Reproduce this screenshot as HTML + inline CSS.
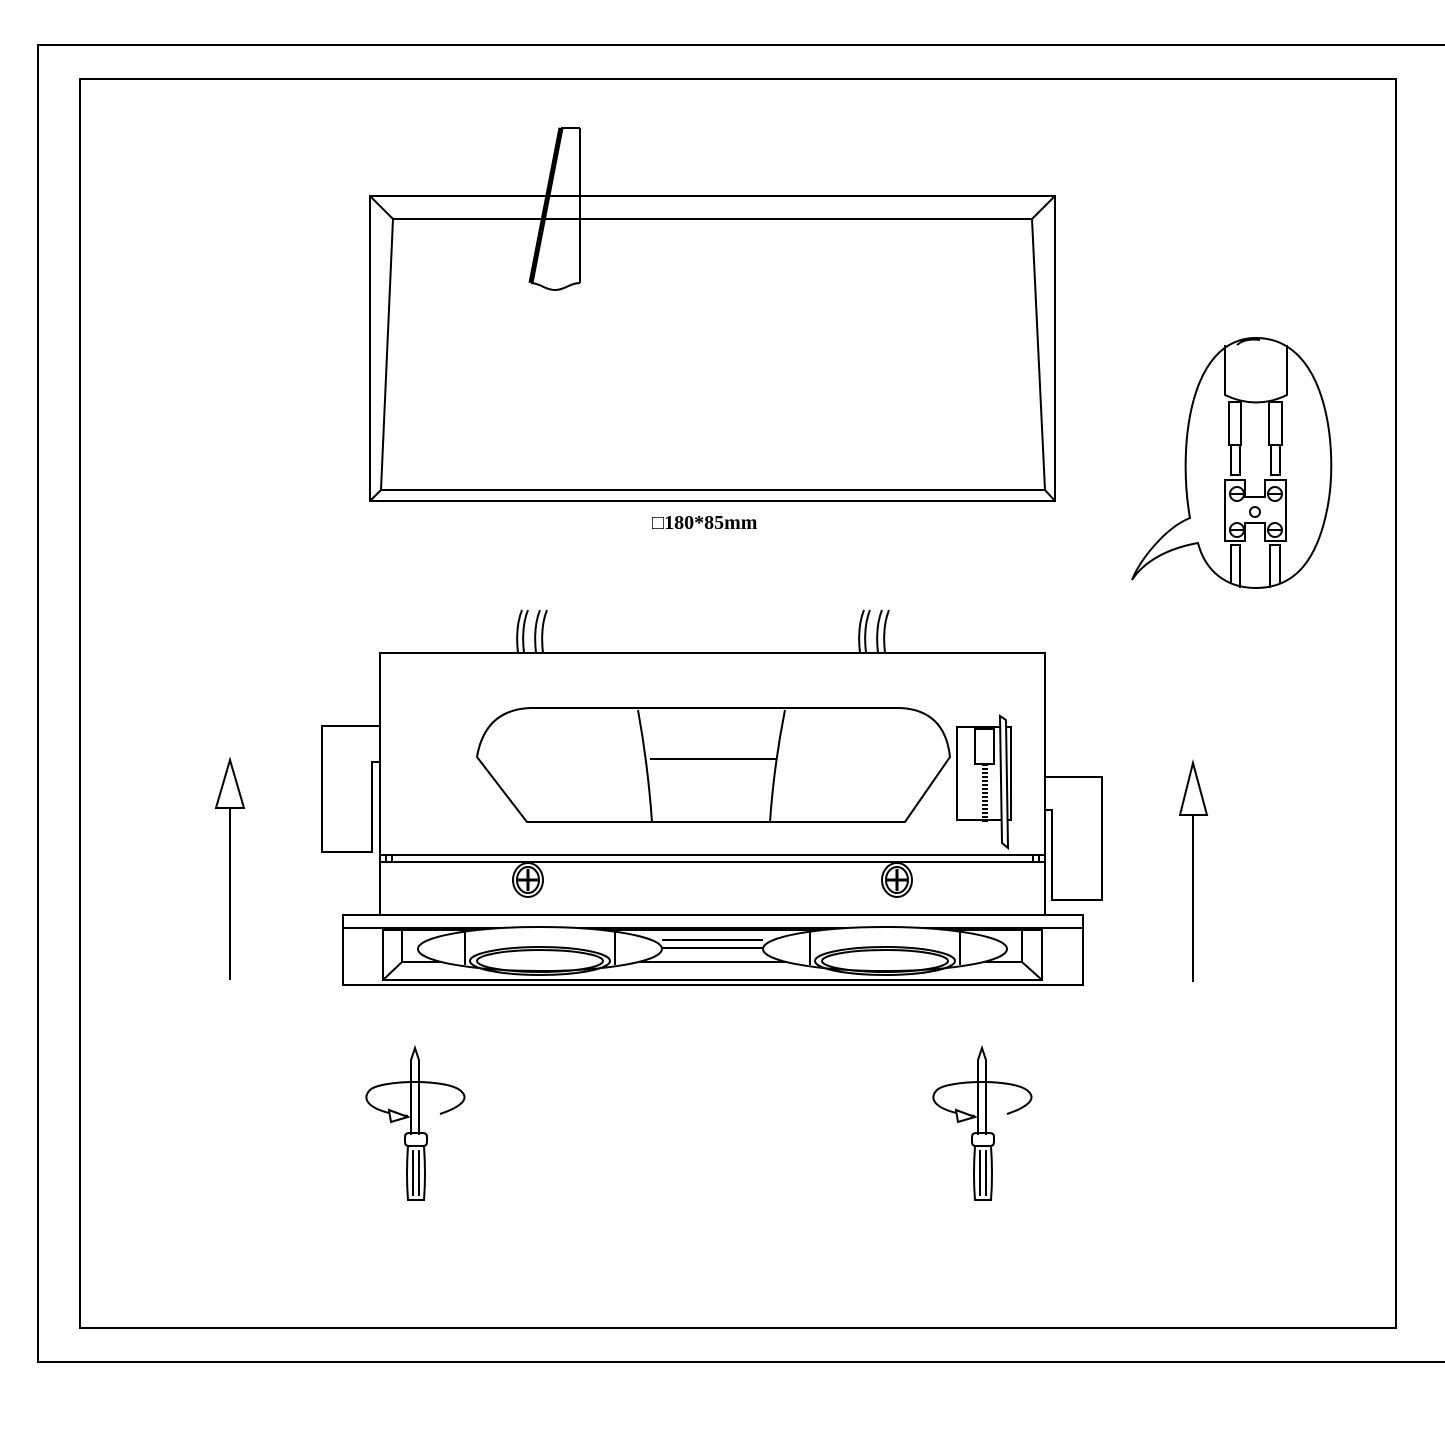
<!DOCTYPE html>
<html><head><meta charset="utf-8"><style>html,body{margin:0;padding:0;background:#fff}svg{display:block}</style></head>
<body>
<svg width="1445" height="1445" viewBox="0 0 1445 1445" xmlns="http://www.w3.org/2000/svg" fill="none" stroke="#000" stroke-width="2">
<!-- frames -->
<path d="M1445 45 H38 V1362 H1445"/>
<rect x="80" y="79" width="1316" height="1249"/>

<!-- top panel -->
<rect x="370" y="196" width="685" height="305"/>
<path d="M393 219 H1032 L1045 490 H381 Z"/>
<path d="M370 196 L393 219 M1055 196 L1032 219 M370 501 L381 490 M1055 501 L1045 490"/>
<!-- knife -->
<path d="M580 128 V283" />
<path d="M561 128 H580"/>
<path d="M561 128 L531 283" stroke-width="5"/>
<path d="M531 283 C540 283 545 290 555 290 C565 290 570 283 580 283" fill="#fff"/>
<text x="652" y="529" font-family="Liberation Serif, serif" font-size="20" font-weight="bold" fill="#000" stroke="none">□180*85mm</text>

<!-- bubble -->
<path d="M1190 518 C1178 450 1188 338 1256 338 C1328 338 1338 450 1328 505 C1318 560 1295 588 1256 588 C1225 588 1205 570 1198 543 C1170 548 1145 560 1132 580 C1140 560 1165 528 1190 518 Z" fill="#fff"/>
<path d="M1225 345 V395 Q1256 410 1287 395 V345"/>
<path d="M1237 345 Q1245 338 1260 340"/>
<rect x="1229" y="402" width="12" height="43"/><rect x="1231" y="445" width="9" height="30"/>
<rect x="1269" y="402" width="13" height="43"/><rect x="1271" y="445" width="9" height="30"/>
<path d="M1225 480 H1245 V497 H1265 V480 H1286 V541 H1265 V523 H1245 V541 H1225 Z"/>
<circle cx="1237" cy="494" r="7"/><circle cx="1275" cy="494" r="7"/>
<circle cx="1237" cy="530" r="7"/><circle cx="1275" cy="530" r="7"/>
<path d="M1231 494 H1243 M1269 494 H1281 M1231 530 H1243 M1269 530 H1281"/>
<circle cx="1255" cy="512" r="5"/>
<path d="M1231 584 V545 H1240 V588 M1270 588 V545 H1280 V584"/>

<!-- wires -->
<path d="M518 653 C516 635 518 620 522 610 M524 653 C522 635 524 620 528 610"/>
<path d="M536 653 C534 635 536 620 540 610 M543 653 C541 635 543 620 547 610"/>
<path d="M860 653 C858 635 860 620 864 610 M866 653 C864 635 866 620 870 610"/>
<path d="M878 653 C876 635 878 620 882 610 M885 653 C883 635 885 620 889 610"/>

<!-- fixture body -->
<rect x="380" y="653" width="665" height="262"/>
<path d="M380 726 H322 V852 H372 V762 H380"/>
<path d="M1045 777 H1102 V900 H1052 V810 H1045"/>
<path d="M380 855 H1045 M380 862 H1045 M386 855 V862 M392 855 V862 M1033 855 V862 M1039 855 V862"/>
<!-- window -->
<path d="M530 708 H900 Q945 710 950 757 L905 822 H527 L477 757 Q485 710 530 708 Z"/>
<path d="M638 710 Q648 765 652 822 M785 710 Q774 765 770 822 M650 759 H776"/>
<!-- mechanism -->
<rect x="957" y="727" width="54" height="93"/>
<rect x="975" y="729" width="19" height="35"/>
<path d="M985 764 V822" stroke-width="6" stroke-dasharray="2 2"/>
<path d="M1000 716 L1006 720 L1008 848 L1002 843 Z" fill="#fff"/>
<!-- screws -->
<ellipse cx="528" cy="880" rx="15" ry="17"/><ellipse cx="528" cy="880" rx="11" ry="13"/>
<path d="M528 869 V891 M517 880 H539" stroke-width="3"/>
<ellipse cx="897" cy="880" rx="15" ry="17"/><ellipse cx="897" cy="880" rx="11" ry="13"/>
<path d="M897 869 V891 M886 880 H908" stroke-width="3"/>
<!-- trim -->
<rect x="343" y="915" width="740" height="70"/>
<path d="M343 928 H1083"/>
<rect x="383" y="930" width="659" height="50"/>
<path d="M383 980 L402 962 H1022 L1042 980 M402 962 V930 M1022 962 V930"/>
<ellipse cx="540" cy="949" rx="122" ry="22" fill="#fff"/>
<path d="M465 930 V965 M615 930 V965"/>
<ellipse cx="540" cy="961" rx="70" ry="14"/><ellipse cx="540" cy="961" rx="63" ry="11"/>
<ellipse cx="885" cy="949" rx="122" ry="22" fill="#fff"/>
<path d="M810 930 V965 M960 930 V965"/>
<ellipse cx="885" cy="961" rx="70" ry="14"/><ellipse cx="885" cy="961" rx="63" ry="11"/>
<path d="M662 940 H763 M662 948 H763"/>

<!-- arrows -->
<path d="M230 980 V808"/><path d="M216 808 H244 L230 760 Z"/>
<path d="M1193 982 V815"/><path d="M1180 815 H1207 L1193 763 Z"/>

<!-- screwdrivers -->
<g id="sd">
<path d="M408 1116 C370 1112 360 1100 370 1090 C380 1080 450 1078 462 1092 C470 1100 458 1108 440 1114"/>
<path d="M389 1110 L408 1117 L391 1122 Z" fill="#fff"/>
<path d="M411 1135 V1060 L415 1048 L419 1060 V1135"/>
<path d="M405 1137 Q405 1133 409 1133 H423 Q427 1133 427 1137 V1142 Q427 1146 423 1146 H409 Q405 1146 405 1142 Z"/>
<path d="M408 1146 Q406 1175 408 1200 H424 Q426 1175 424 1146 M413 1150 V1196 M419 1150 V1196"/>
</g>
<use href="#sd" transform="translate(567 0)"/>
</svg>
</body></html>
